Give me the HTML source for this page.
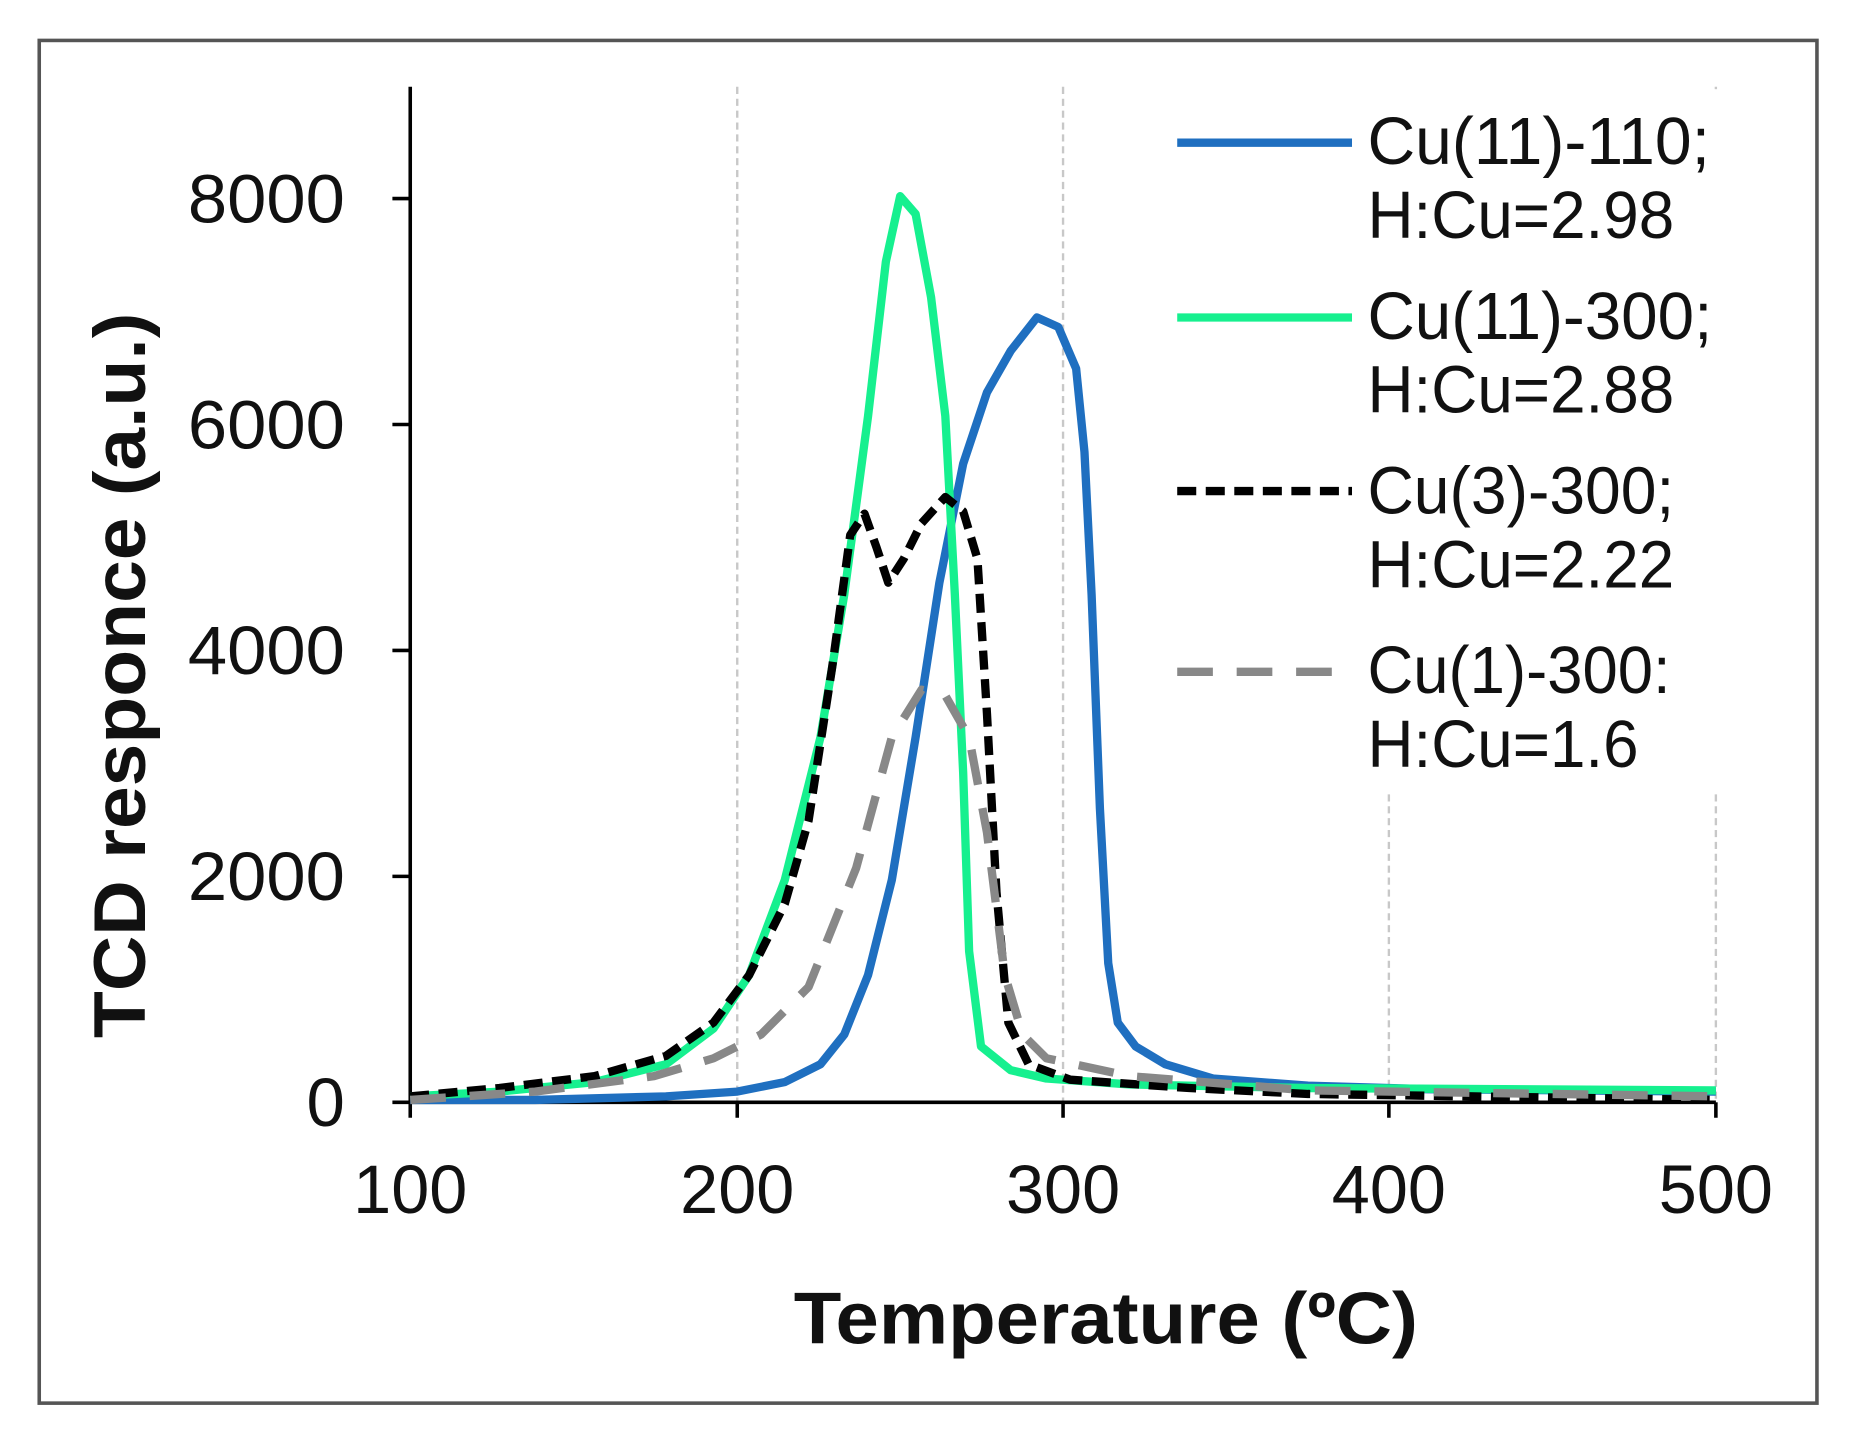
<!DOCTYPE html>
<html><head><meta charset="utf-8"><style>html,body{margin:0;padding:0;background:#fff}svg{display:block}</style></head>
<body>
<svg width="1855" height="1440" viewBox="0 0 1560 1211" preserveAspectRatio="none" xmlns="http://www.w3.org/2000/svg">
<rect x="0" y="0" width="1560" height="1211" fill="#fff"/>
<rect x="33" y="34" width="1495" height="1146" fill="none" stroke="#555" stroke-width="3"/>
<g stroke="#c8c8c8" stroke-width="2" stroke-dasharray="6,4">
<line x1="620" y1="73" x2="620" y2="927"/>
<line x1="894" y1="73" x2="894" y2="927"/>
<line x1="1168" y1="668" x2="1168" y2="927"/>
<line x1="1443" y1="73" x2="1443" y2="100"/>
<line x1="1443" y1="668" x2="1443" y2="927"/>
</g>
<g stroke="#000" stroke-width="3">
<line x1="345" y1="73" x2="345" y2="940"/>
<line x1="330" y1="927" x2="1443" y2="927"/>
<line x1="330" y1="167" x2="345" y2="167"/>
<line x1="330" y1="357" x2="345" y2="357"/>
<line x1="330" y1="547" x2="345" y2="547"/>
<line x1="330" y1="737" x2="345" y2="737"/>
<line x1="620" y1="927" x2="620" y2="940"/>
<line x1="894" y1="927" x2="894" y2="940"/>
<line x1="1168" y1="927" x2="1168" y2="940"/>
<line x1="1443" y1="927" x2="1443" y2="940"/>
</g>
<g font-family="Liberation Sans, sans-serif" font-size="58" fill="#111" text-anchor="end">
<text x="290" y="187" textLength="132" lengthAdjust="spacingAndGlyphs">8000</text>
<text x="290" y="377" textLength="132" lengthAdjust="spacingAndGlyphs">6000</text>
<text x="290" y="567" textLength="132" lengthAdjust="spacingAndGlyphs">4000</text>
<text x="290" y="757" textLength="132" lengthAdjust="spacingAndGlyphs">2000</text>
<text x="290" y="947">0</text>
</g>
<g font-family="Liberation Sans, sans-serif" font-size="58" fill="#111" text-anchor="middle">
<text x="345" y="1020" textLength="96" lengthAdjust="spacingAndGlyphs">100</text>
<text x="620" y="1020" textLength="96" lengthAdjust="spacingAndGlyphs">200</text>
<text x="894" y="1020" textLength="96" lengthAdjust="spacingAndGlyphs">300</text>
<text x="1168" y="1020" textLength="96" lengthAdjust="spacingAndGlyphs">400</text>
<text x="1443" y="1020" textLength="96" lengthAdjust="spacingAndGlyphs">500</text>
</g>
<text x="930" y="1130" font-family="Liberation Sans, sans-serif" font-weight="bold" font-size="62" text-anchor="middle" textLength="525" lengthAdjust="spacingAndGlyphs" fill="#111">Temperature (ºC)</text>
<text transform="translate(122,568) rotate(-90)" font-family="Liberation Sans, sans-serif" font-weight="bold" font-size="62" text-anchor="middle" textLength="610" lengthAdjust="spacingAndGlyphs" fill="#111">TCD responce (a.u.)</text>
<g fill="none" stroke-linejoin="round" stroke-linecap="butt" stroke-width="7">
<polyline stroke="#1f6fc0" points="345,925 450,925 560,922 620,918 660,910 690,895 710,870 730,820 750,740 770,620 790,490 810,390 830,330 850,295 872,267 890,275 905,310 912,380 918,500 925,680 932,810 940,860 955,880 980,895 1020,907 1100,913 1200,916 1443,918"/>
<polyline stroke="#16f08f" points="345,922 420,918 500,910 560,895 600,865 630,820 660,740 690,620 710,500 730,350 745,220 757,165 770,180 783,250 795,350 803,500 810,650 815,800 825,880 850,900 880,907 950,912 1100,915 1443,917"/>
<polyline stroke="#000" stroke-dasharray="16,8" points="345,922 420,915 500,905 560,888 600,860 630,820 660,760 680,690 700,560 715,450 727,432 737,460 747,490 760,470 775,440 795,418 810,430 822,470 830,600 838,750 848,860 865,895 900,908 1000,915 1100,920 1443,925"/>
<polyline stroke="#888" stroke-dasharray="30,20" points="345,925 450,918 550,905 600,890 640,870 680,830 720,730 750,620 775,580 795,585 815,620 830,700 845,820 860,870 880,890 950,905 1100,917 1443,922"/>
</g>
<rect x="975" y="75" width="470" height="590" fill="#fff"/>
<g stroke-width="7">
<line x1="990" y1="120" x2="1137" y2="120" stroke="#1f6fc0"/>
<line x1="990" y1="267" x2="1137" y2="267" stroke="#16f08f"/>
<line x1="990" y1="413" x2="1137" y2="413" stroke="#000" stroke-dasharray="16,8"/>
<line x1="990" y1="565" x2="1137" y2="565" stroke="#888" stroke-dasharray="30,20"/>
</g>
<g font-family="Liberation Sans, sans-serif" font-size="56" fill="#111">
<text x="1150" y="138" textLength="288" lengthAdjust="spacingAndGlyphs">Cu(11)-110;</text>
<text x="1150" y="200" textLength="258" lengthAdjust="spacingAndGlyphs">H:Cu=2.98</text>
<text x="1150" y="285" textLength="290" lengthAdjust="spacingAndGlyphs">Cu(11)-300;</text>
<text x="1150" y="347" textLength="258" lengthAdjust="spacingAndGlyphs">H:Cu=2.88</text>
<text x="1150" y="432" textLength="258" lengthAdjust="spacingAndGlyphs">Cu(3)-300;</text>
<text x="1150" y="494" textLength="258" lengthAdjust="spacingAndGlyphs">H:Cu=2.22</text>
<text x="1150" y="583" textLength="255" lengthAdjust="spacingAndGlyphs">Cu(1)-300:</text>
<text x="1150" y="645" textLength="228" lengthAdjust="spacingAndGlyphs">H:Cu=1.6</text>
</g>
</svg>
</body></html>
